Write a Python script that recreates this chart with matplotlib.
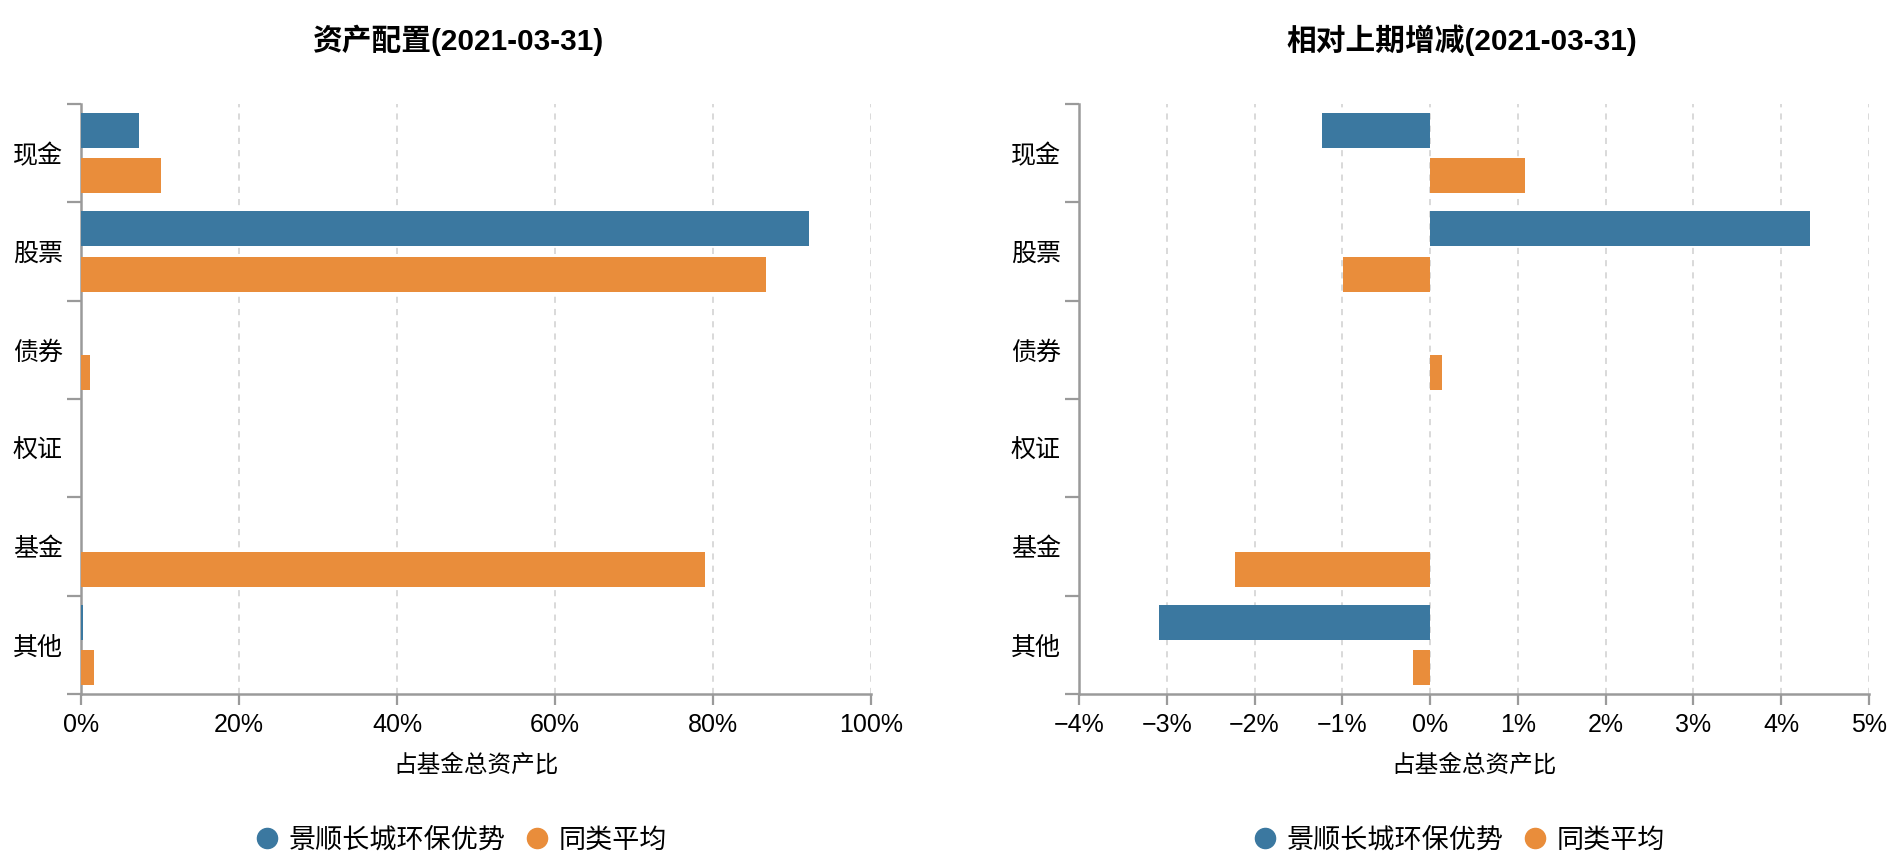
import matplotlib
matplotlib.use("Agg")
import matplotlib.pyplot as plt
from matplotlib.ticker import PercentFormatter, FixedLocator
from matplotlib.lines import Line2D
import numpy as np

plt.rcParams['font.family'] = ['Liberation Sans', 'Noto Sans CJK SC', 'DejaVu Sans']

# 数据
categories = ["现金", "股票", "债券", "权证", "基金", "其他"]
fund_alloc = [7.3, 92.2, 0.0, 0.0, 0.0, 0.3]
peer_alloc = [10.15, 86.7, 1.15, 0.0, 79.0, 1.7]
fund_change = [-1.23, 4.33, 0.0, 0.0, 0.0, -3.09]
peer_change = [1.08, -0.99, 0.13, 0.0, -2.22, -0.19]

series_names = ["景顺长城环保优势", "同类平均"]
date_str = "2021-03-31"

BLUE = "#3b78a0"
ORANGE = "#e98d3b"
AXIS_GRAY = "#9a9a9a"
GRID_GRAY = "#cfcfcf"

fig = plt.figure(figsize=(19.04, 8.66), dpi=100)
ax1 = fig.add_axes([81 / 1904, 172 / 866, 790 / 1904, 590 / 866])
ax2 = fig.add_axes([1079 / 1904, 172 / 866, 790 / 1904, 590 / 866])


def draw_panel(ax, title, fund, peer, xlim, xticks, title_x):
    n = len(categories)
    pos = np.arange(n)
    h = 0.355
    ax.barh(pos + 0.27, fund, height=h, color=BLUE, linewidth=0, zorder=3)
    ax.barh(pos + 0.73, peer, height=h, color=ORANGE, linewidth=0, zorder=3)

    ax.set_ylim(n, 0)
    ax.set_xlim(*xlim)
    ax.set_xticks(xticks)
    ax.xaxis.set_major_formatter(PercentFormatter(xmax=100, decimals=0))

    # 类别边界刻度 + 居中标签
    ax.yaxis.set_major_locator(FixedLocator(np.arange(n + 1)))
    ax.set_yticklabels([], minor=False)
    ax.set_yticks(pos + 0.5, categories, minor=True)
    ax.tick_params(axis="y", which="major", length=10, width=1.6, color=AXIS_GRAY)
    ax.tick_params(axis="y", which="minor", length=0, pad=13, labelsize=18)
    ax.tick_params(axis="x", length=8, width=1.6, color=AXIS_GRAY,
                   labelsize=18, pad=6)

    for s in ["top", "right"]:
        ax.spines[s].set_visible(False)
    for s in ["left", "bottom"]:
        ax.spines[s].set_color(AXIS_GRAY)
        ax.spines[s].set_linewidth(1.8)

    ax.grid(axis="x", color=GRID_GRAY, linestyle=(0, (4, 4)), linewidth=1.1, zorder=0)
    ax.set_axisbelow(True)

    ax.set_title(title, fontsize=21.4, fontweight="bold", pad=39, x=title_x)
    ax.set_xlabel("占基金总资产比", fontsize=17, labelpad=12)

    handles = [Line2D([], [], marker="o", linestyle="", markersize=14.5,
                      color=c) for c in (BLUE, ORANGE)]
    ax.legend(handles, series_names, loc="upper center",
              bbox_to_anchor=(0.48, -0.185), ncol=2, frameon=False,
              fontsize=19.5, handletextpad=0.3, handlelength=1.0,
              columnspacing=0.65)


draw_panel(ax1, f"资产配置({date_str})", fund_alloc, peer_alloc,
           (0, 100), np.arange(0, 101, 20), 0.477)
draw_panel(ax2, f"相对上期增减({date_str})", fund_change, peer_change,
           (-4, 5), np.arange(-4, 6, 1), 0.484)

fig.savefig("out.png", dpi=100, facecolor="white")
